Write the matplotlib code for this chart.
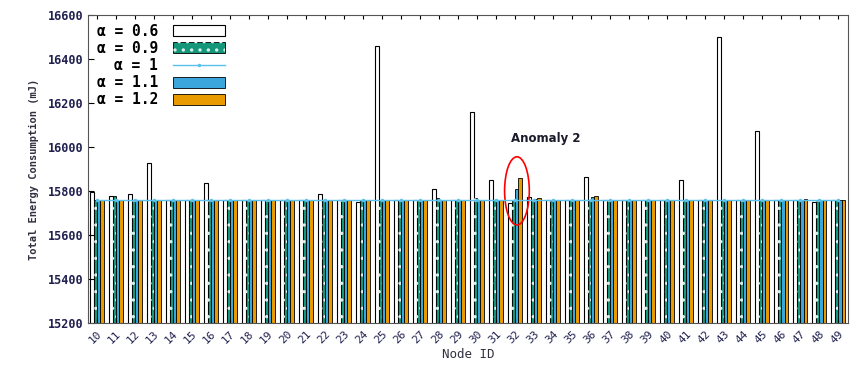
import numpy as np
import matplotlib.pyplot as plt
from matplotlib.patches import Ellipse

plt.rcParams['font.family'] = ['DejaVu Sans Mono', 'DejaVu Sans']
plt.rcParams['hatch.linewidth'] = 1.2

nodes = list(range(10, 50))

# energy per node for each alpha (mJ)
e_a06 = [15795, 15775, 15786, 15929, 15757, 15757, 15836, 15757, 15757, 15757,
         15757, 15757, 15786, 15757, 15750, 16458, 15757, 15757, 15809, 15757,
         16160, 15850, 15745, 15770, 15757, 15757, 15861, 15757, 15757, 15757,
         15757, 15850, 15757, 16498, 15757, 16070, 15757, 15757, 15750, 15757]
e_a09 = [15757, 15775, 15757, 15757, 15757, 15757, 15757, 15757, 15757, 15757,
         15757, 15757, 15757, 15757, 15757, 15757, 15757, 15757, 15768, 15757,
         15768, 15757, 15757, 15765, 15757, 15757, 15757, 15757, 15757, 15757,
         15757, 15757, 15757, 15757, 15757, 15757, 15757, 15757, 15757, 15757]
e_a10 = [15757] * 40
e_a11 = [15757, 15757, 15757, 15757, 15757, 15757, 15757, 15757, 15757, 15757,
         15757, 15757, 15757, 15757, 15757, 15757, 15757, 15757, 15757, 15757,
         15757, 15757, 15809, 15765, 15757, 15757, 15774, 15757, 15757, 15757,
         15757, 15757, 15757, 15757, 15757, 15757, 15757, 15757, 15757, 15757]
e_a12 = [15757, 15757, 15757, 15757, 15757, 15757, 15757, 15757, 15757, 15757,
         15757, 15757, 15757, 15757, 15757, 15757, 15757, 15757, 15757, 15757,
         15757, 15757, 15858, 15768, 15757, 15757, 15775, 15757, 15757, 15757,
         15757, 15757, 15757, 15757, 15757, 15757, 15757, 15763, 15757, 15757]

x = np.arange(len(nodes))
w = 0.18

fig = plt.figure(figsize=(8.55, 3.72), dpi=100)
ax = fig.add_axes([0.103, 0.132, 0.889, 0.828])

b06 = ax.bar(x - 1.5 * w, e_a06, w, color='white', edgecolor='black',
             linewidth=0.8, label='α = 0.6')
b09 = ax.bar(x - 0.5 * w, e_a09, w, color='#14967a', edgecolor='black',
             linewidth=0.6, label='α = 0.9')
h09 = ax.bar(x - 0.5 * w, e_a09, w, color='none', edgecolor='#d8f0e8',
             linewidth=0, hatch='..')
l10, = ax.plot(x, e_a10, color='#5bc0eb', lw=1.0, marker='.', ms=3,
               label='α = 1')
b11 = ax.bar(x + 0.5 * w, e_a11, w, color='#3aa6dc', edgecolor='black',
             linewidth=0.6, label='α = 1.1')
b12 = ax.bar(x + 1.5 * w, e_a12, w, color='#e89a00', edgecolor='black',
             linewidth=0.6, label='α = 1.2')

ax.set_xlim(-0.47, 39.53)
ax.set_ylim(15200, 16600)
ax.set_yticks(np.arange(15200, 16601, 200))
ax.set_xticks(x)
ax.set_xticklabels([str(n) for n in nodes], rotation=45, ha='right',
                   rotation_mode='anchor', fontsize=8, color='#202050')
for t in ax.get_yticklabels():
    t.set_fontweight('bold')
ax.tick_params(axis='y', labelsize=8.5, labelcolor='#202050', direction='in',
               right=False, length=4)
ax.tick_params(axis='x', direction='in', top=True, length=3, pad=4)
for s in ax.spines.values():
    s.set_color('#555555')

ax.set_ylabel('Total Energy Consumption (mJ)', fontsize=7.5, fontweight='bold',
              color='#303040', labelpad=6)
ax.set_xlabel('Node ID', fontsize=9, color='#303040', labelpad=2)

leg = ax.legend([b06, (b09, h09), l10, b11, b12],
                ['α = 0.6', 'α = 0.9', 'α = 1', 'α = 1.1', 'α = 1.2'],
                loc='upper left', markerfirst=False, frameon=False,
                fontsize=10.5, handlelength=3.6, handleheight=0.8,
                labelspacing=0.15, borderaxespad=0.2, handletextpad=1.0)
for t in leg.get_texts():
    t.set_fontweight('bold')

# highlighted anomaly around node 32
ax.add_patch(Ellipse((22.1, 15800), 1.3, 310, fill=False, edgecolor='red',
                     linewidth=1.2))
ax.text(23.6, 16040, 'Anomaly 2', family='DejaVu Sans', fontsize=8.5,
        fontweight='bold', color='#1a1a2a', ha='center', va='center')

fig.savefig('out.png', dpi=100)
